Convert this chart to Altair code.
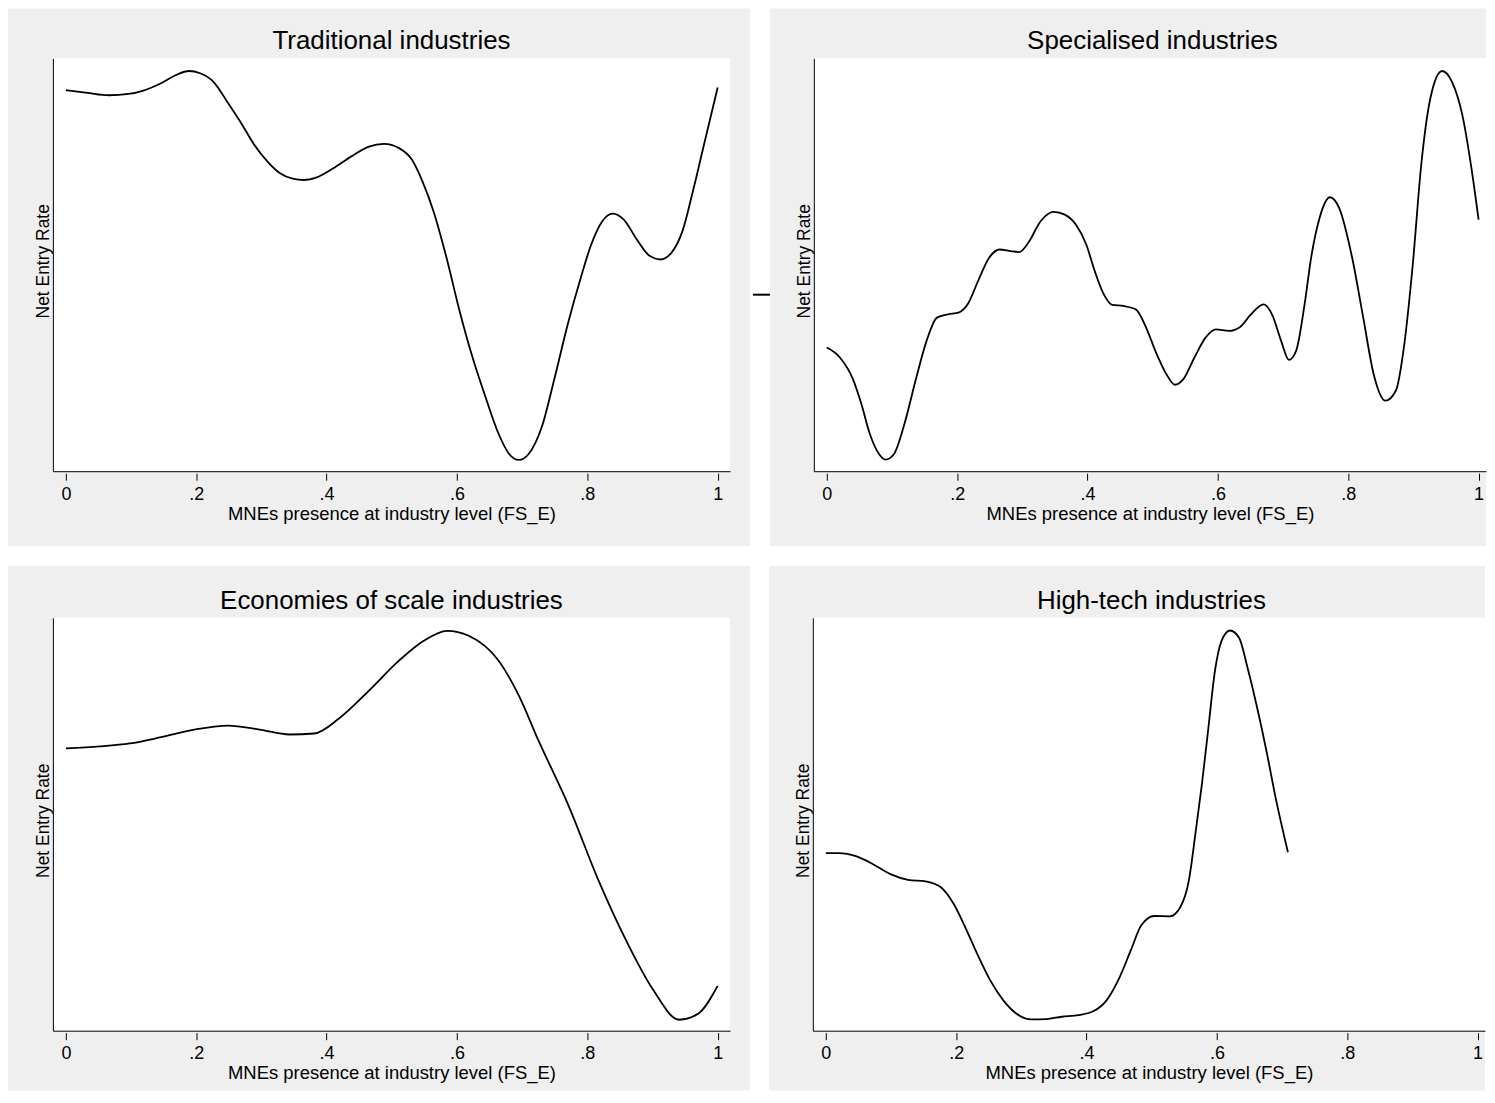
import altair as alt
import pandas as pd

# ---- text ----
titles = ["Traditional industries", "Specialised industries",
          "Economies of scale industries", "High-tech industries"]
x_title = "MNEs presence at industry level (FS_E)"
y_title = "Net Entry Rate"
tick_values = [0, 0.2, 0.4, 0.6, 0.8, 1]
tick_labels = ["0", ".2", ".4", ".6", ".8", "1"]

# ---- series (x = MNE presence, y = net entry rate, arbitrary units) ----
trad_x = [0.000, 0.033, 0.066, 0.096, 0.119, 0.146, 0.169, 0.189, 0.206, 0.226, 0.249, 0.269,
          0.289, 0.309, 0.328, 0.348, 0.365, 0.385, 0.411, 0.438, 0.464, 0.488, 0.511, 0.531,
          0.547, 0.564, 0.584, 0.604, 0.624, 0.644, 0.664, 0.680, 0.695, 0.710, 0.730, 0.750,
          0.770, 0.790, 0.806, 0.823, 0.839, 0.856, 0.876, 0.896, 0.912, 0.929, 0.946, 0.962,
          0.979, 1.000]
trad_y = [382.0, 379.3, 377.0, 378.3, 381.7, 389.0, 397.3, 401.3, 399.0, 390.7, 369.0, 349.0,
          327.3, 310.7, 299.0, 293.3, 292.0, 294.7, 304.0, 315.7, 325.3, 328.3, 324.0, 312.3,
          290.7, 260.7, 214.0, 160.7, 114.0, 74.0, 37.3, 17.3, 11.3, 17.3, 44.0, 94.0,
          147.3, 194.0, 227.3, 250.7, 258.3, 252.3, 232.3, 215.7, 212.3, 219.0, 240.7, 280.7,
          327.3, 384.7]

spec_x = [0.000, 0.020, 0.040, 0.053, 0.066, 0.080, 0.090, 0.103, 0.119, 0.136, 0.153, 0.169,
          0.186, 0.202, 0.216, 0.232, 0.249, 0.265, 0.282, 0.295, 0.309, 0.328, 0.348, 0.365,
          0.382, 0.398, 0.411, 0.425, 0.438, 0.455, 0.474, 0.491, 0.504, 0.521, 0.534, 0.547,
          0.564, 0.581, 0.597, 0.617, 0.634, 0.650, 0.670, 0.683, 0.697, 0.709, 0.720, 0.733,
          0.743, 0.756, 0.772, 0.786, 0.806, 0.823, 0.839, 0.857, 0.873, 0.886, 0.899, 0.912,
          0.926, 0.944, 0.959, 0.975, 0.989, 1.000]
spec_y = [124.0, 114.0, 92.3, 67.3, 37.3, 17.3, 11.7, 17.3, 47.3, 90.7, 130.7, 154.0,
          157.3, 159.0, 167.3, 190.7, 214.0, 222.3, 220.7, 219.7, 229.0, 250.7, 260.0, 257.3,
          247.3, 227.3, 200.7, 177.3, 166.7, 165.7, 162.3, 142.3, 120.7, 97.3, 86.7, 92.3,
          114.0, 134.0, 142.3, 140.7, 144.7, 156.7, 167.3, 157.3, 130.7, 111.7, 120.7, 167.3,
          214.0, 254.0, 274.7, 264.0, 214.0, 154.0, 97.3, 70.7, 80.7, 127.3, 207.3, 307.3,
          374.0, 401.3, 390.7, 357.3, 304.0, 252.3]

scale_x = [0.000, 0.052, 0.098, 0.144, 0.197, 0.249, 0.297, 0.343, 0.381, 0.419, 0.465, 0.511,
           0.549, 0.585, 0.618, 0.664, 0.695, 0.725, 0.771, 0.817, 0.863, 0.901, 0.941, 0.970,
           1.000]
scale_y = [283, 285, 288, 294, 302, 306, 302, 297, 298, 313, 341, 371,
           391, 401, 396, 371, 336, 291, 226, 151, 86, 41, 11, 17,
           45]

tech_x = [0.000, 0.020, 0.046, 0.073, 0.100, 0.126, 0.153, 0.176, 0.196, 0.216, 0.232, 0.252,
          0.272, 0.292, 0.315, 0.338, 0.362, 0.388, 0.411, 0.431, 0.451, 0.468, 0.484, 0.504,
          0.528, 0.544, 0.557, 0.567, 0.577, 0.587, 0.597, 0.607, 0.620, 0.634, 0.647, 0.664,
          0.677, 0.690, 0.709]
tech_y = [178.0, 178.0, 175.0, 166.7, 156.7, 151.3, 149.7, 144.0, 127.3, 100.7, 77.3, 50.7,
          30.7, 17.3, 11.3, 11.7, 14.0, 15.7, 19.7, 30.7, 54.0, 80.7, 105.7, 115.0,
          114.7, 124.0, 150.7, 197.3, 247.3, 304.0, 360.7, 390.7, 401.3, 394.0, 364.0, 317.3,
          277.3, 234.0, 179.0]

H = 414
PX_PER_UNIT = 653.5
GREY = "#efefef"
FONT = "Liberation Sans"

label_expr = " : ".join(
    f"datum.value == {v} ? '{l}'" for v, l in zip(tick_values, tick_labels)) + " : ''"


def panel(title, xs, ys, W, left_ext, right_ext, top_ext, bottom_ext, dash=False):
    x_lo = -0.02
    x_hi = x_lo + W / PX_PER_UNIT
    df = pd.DataFrame({"x": xs, "y": ys})
    one = pd.DataFrame({"t": [title]})
    grey = alt.Chart(one).mark_rect(color=GREY).encode(
        x=alt.value(-left_ext), x2=alt.value(W + right_ext),
        y=alt.value(-top_ext), y2=alt.value(H + bottom_ext))
    white = alt.Chart(one).mark_rect(color="white").encode(
        x=alt.value(0), x2=alt.value(W), y=alt.value(0), y2=alt.value(H))
    line = alt.Chart(df).mark_line(color="black", strokeWidth=1.8,
                                   interpolate="monotone").encode(
        x=alt.X("x:Q",
                scale=alt.Scale(domain=[x_lo, x_hi], nice=False, zero=False),
                axis=alt.Axis(values=tick_values, labelExpr=label_expr, title=x_title,
                              grid=False, domainColor="black", domainWidth=1,
                              tickColor="black", tickSize=9, tickDash=[0, 2, 7, 20],
                              labelFontSize=18, labelColor="black",
                              labelBaseline="alphabetic", labelPadding=19,
                              labelFlush=False, labelOverlap=False, titleFontSize=18.5,
                              titleFontWeight="normal", titleColor="black",
                              titleBaseline="alphabetic", titleY=48, zindex=1)),
        y=alt.Y("y:Q",
                scale=alt.Scale(domain=[0, H], nice=False, zero=False),
                axis=alt.Axis(title=y_title, labels=False, ticks=False, grid=False,
                              domainColor="black", domainWidth=1, titleFontSize=17.5,
                              titleFontWeight="normal", titleColor="black",
                              titleBaseline="alphabetic", titleX=-4, titleY=203,
                              zindex=1)))
    ttl = alt.Chart(one).mark_text(fontSize=26, baseline="alphabetic", align="center",
                                   color="black").encode(
        x=alt.value(679 / 2), y=alt.value(-9), text="t:N")
    layers = [grey, white, line, ttl]
    if dash:
        mark = alt.Chart(one).mark_rule(color="black", strokeWidth=2).encode(
            x=alt.value(-left_ext - 17), x2=alt.value(-left_ext), y=alt.value(237))
        layers.append(mark)
    return alt.layer(*layers).properties(width=W, height=H)


p1 = panel(titles[0], trad_x, trad_y, 679, 45, 20, 50, 75)
p2 = panel(titles[1], spec_x, spec_y, 674, 44, 0, 50, 75, dash=True)
p3 = panel(titles[2], scale_x, scale_y, 679, 45, 20, 52, 60)
p4 = panel(titles[3], tech_x, tech_y, 674, 44, 0, 52, 60)

row1 = alt.hconcat(p1, p2, spacing=0)
row2 = alt.hconcat(p3, p4, spacing=17)

chart = alt.vconcat(row1, row2, spacing=18).properties(
    padding={"left": -1, "top": -2, "right": 0, "bottom": 0},
    background="white",
).configure(font=FONT).configure_view(stroke="transparent")

chart.save("out.html", embed_options={"renderer": "svg", "actions": False})
